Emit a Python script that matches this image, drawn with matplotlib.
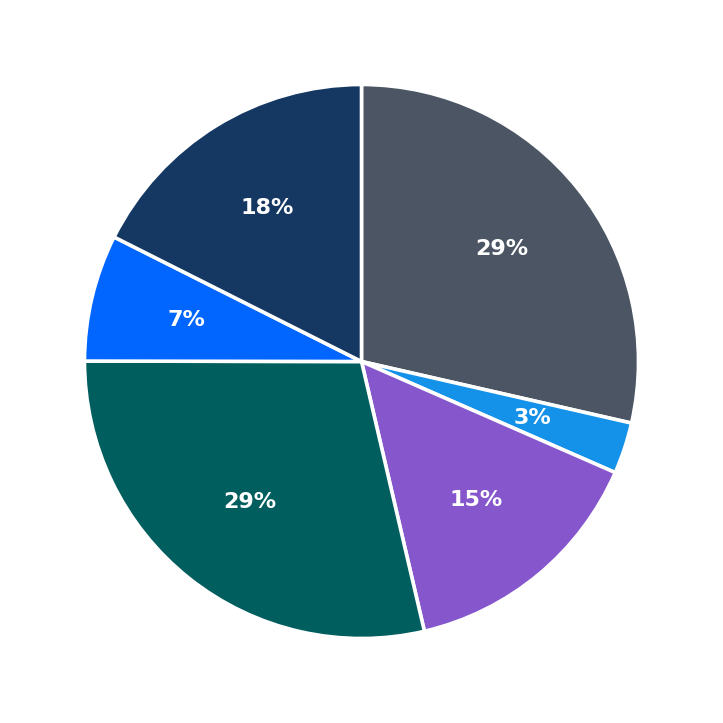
import matplotlib
matplotlib.use("Agg")
import matplotlib.pyplot as plt

# shares, clockwise from 12 o'clock
valores = [28.6, 3.0, 14.8, 28.7, 7.4, 17.6]
cores = ["#4b5563", "#1491e8", "#8556cc", "#005e5e", "#0066ff", "#143862"]

fig = plt.figure(figsize=(7.23, 7.23), dpi=100)
ax = fig.add_axes([0, 0, 1, 1])

fatias, textos, pcts = ax.pie(
    valores,
    colors=cores,
    startangle=90,
    counterclock=False,
    autopct=lambda p: f"{p:.0f}%",
    pctdistance=0.65,
    wedgeprops={"edgecolor": "white", "linewidth": 2.6},
    textprops={"color": "white", "fontsize": 16, "fontweight": "bold"},
)

lim = 361.5 / 277
ax.set_xlim(-lim, lim)
ax.set_ylim(-lim, lim)
ax.set_aspect("equal")
ax.axis("off")

fig.savefig("out.png", dpi=100, facecolor="white")
